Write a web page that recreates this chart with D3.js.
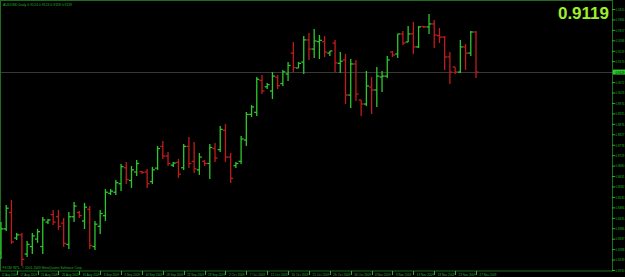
<!DOCTYPE html>
<html>
<head>
<meta charset="utf-8">
<script src="https://cdn.jsdelivr.net/npm/d3@7"></script>
<style>
  body { margin: 0; background: #000; }
  svg { display: block; }
  text { font-family: "Liberation Sans", Arial, sans-serif; }
</style>
</head>
<body>
<div id="chart"></div>
<script>
// AUDUSD daily bars, one entry per bar (left to right)
var barOpen  = [0.8270,0.8383,0.8460,0.8340,0.8355,0.8265,0.8300,0.8335,0.8300,0.8415,
                0.8450,0.8440,0.8410,0.8310,0.8440,0.8460,0.8420,0.8475,0.8300,0.8395,
                0.8445,0.8550,0.8555,0.8595,0.8670,0.8610,0.8650,0.8652,0.8650,0.8605,
                0.8668,0.8770,0.8725,0.8682,0.8695,0.8670,0.8770,0.8700,0.8660,0.8700,
                0.8690,0.8760,0.8755,0.8845,0.8720,0.8680,0.8700,0.8800,0.8920,0.8930,
                0.9080,0.9050,0.9030,0.9095,0.9065,0.9110,0.9208,0.9138,0.9166,0.9270,
                0.9227,0.9262,0.9262,0.9208,0.9255,0.9160,0.9176,0.9011,0.9157,0.8988,
                0.8969,0.9049,0.9035,0.9096,0.9100,0.9213,0.9204,0.9298,0.9260,0.9298,
                0.9237,0.9333,0.9331,0.9345,0.9290,0.9283,0.9190,0.9143,0.9119,0.9237,
                0.9208,0.9307];
var barHigh  = [0.8415,0.8495,0.8519,0.8364,0.8364,0.8326,0.8364,0.8383,0.8439,0.8429,
                0.8472,0.8472,0.8434,0.8462,0.8509,0.8467,0.8505,0.8490,0.8420,0.8472,
                0.8570,0.8570,0.8612,0.8688,0.8697,0.8678,0.8706,0.8655,0.8664,0.8674,
                0.8772,0.8796,0.8744,0.8697,0.8711,0.8781,0.8814,0.8791,0.8739,0.8706,
                0.8781,0.8786,0.8866,0.8875,0.8739,0.8697,0.8819,0.8932,0.8964,0.9096,
                0.9105,0.9068,0.9119,0.9105,0.9129,0.9166,0.9260,0.9166,0.9288,0.9302,
                0.9321,0.9293,0.9288,0.9218,0.9270,0.9213,0.9204,0.9180,0.9176,0.8988,
                0.9124,0.9096,0.9143,0.9124,0.9194,0.9218,0.9298,0.9312,0.9335,0.9354,
                0.9335,0.9335,0.9392,0.9363,0.9326,0.9288,0.9213,0.9143,0.9270,0.9251,
                0.9312,0.9312];
var barLow   = [0.8246,0.8378,0.8317,0.8336,0.8214,0.8256,0.8270,0.8322,0.8270,0.8411,
                0.8406,0.8383,0.8303,0.8293,0.8420,0.8439,0.8387,0.8293,0.8289,0.8364,
                0.8425,0.8547,0.8547,0.8566,0.8598,0.8580,0.8636,0.8645,0.8580,0.8598,
                0.8664,0.8716,0.8683,0.8678,0.8627,0.8664,0.8674,0.8650,0.8641,0.8683,
                0.8622,0.8702,0.8749,0.8702,0.8603,0.8674,0.8692,0.8777,0.8913,0.8917,
                0.9021,0.9044,0.8997,0.9044,0.9058,0.9082,0.9124,0.9143,0.9115,0.9180,
                0.9190,0.9185,0.9194,0.9199,0.9124,0.9119,0.8974,0.8955,0.8988,0.8917,
                0.8964,0.8927,0.8960,0.9030,0.9096,0.9194,0.9190,0.9251,0.9265,0.9208,
                0.9237,0.9331,0.9302,0.9237,0.9260,0.9133,0.9068,0.9115,0.9119,0.9133,
                0.9199,0.9096];
var barClose = [0.8383,0.8480,0.8322,0.8355,0.8240,0.8310,0.8350,0.8370,0.8425,0.8425,
                0.8415,0.8395,0.8315,0.8440,0.8490,0.8445,0.8485,0.8305,0.8405,0.8455,
                0.8555,0.8560,0.8600,0.8675,0.8615,0.8660,0.8690,0.8648,0.8595,0.8660,
                0.8760,0.8725,0.8690,0.8692,0.8640,0.8770,0.8690,0.8665,0.8720,0.8690,
                0.8765,0.8715,0.8850,0.8720,0.8620,0.8690,0.8805,0.8920,0.8955,0.9085,
                0.9030,0.9060,0.9100,0.9055,0.9120,0.9150,0.9140,0.9160,0.9270,0.9227,
                0.9265,0.9268,0.9213,0.9218,0.9162,0.9170,0.9011,0.9157,0.9016,0.8969,
                0.9054,0.9035,0.9100,0.9100,0.9176,0.9199,0.9298,0.9255,0.9298,0.9237,
                0.9331,0.9331,0.9345,0.9293,0.9283,0.9190,0.9119,0.9119,0.9237,0.9208,
                0.9307,0.9119];

var priceTicks = [0.8190,0.8239,0.8288,0.8337,0.8386,0.8435,0.8484,0.8533,0.8582,0.8631,
                  0.8680,0.8729,0.8778,0.8827,0.8876,0.8925,0.8974,0.9023,0.9072,0.9121,
                  0.9170,0.9219,0.9268,0.9317,0.9366,0.9415];
var dateLabels = ["12 Aug 2009","17 Aug 2009","21 Aug 2009","26 Aug 2009","31 Aug 2009",
                  "3 Sep 2009","9 Sep 2009","14 Sep 2009","18 Sep 2009","23 Sep 2009",
                  "28 Sep 2009","2 Oct 2009","7 Oct 2009","12 Oct 2009","16 Oct 2009",
                  "21 Oct 2009","26 Oct 2009","30 Oct 2009","4 Nov 2009","9 Nov 2009",
                  "13 Nov 2009","18 Nov 2009","23 Nov 2009","27 Nov 2009"];
var dateLabelBar = [-1,3,7,11,15,19,23,27,31,35,39,43,47,51,55,59,63,67,71,75,79,83,87,91];

var lastPrice = 0.9119;
var symbolTitle = "AUDUSD,Daily  0.9124 0.9124 0.9118 0.9119";
var copyright = "FXCM INTL, \u00a9 2001-2009 MetaQuotes Software Corp.";

var width = 625, height = 277;
var frameColor = "#1e6e1e", textColor = "#22b422";
var upColor = "#2ec82e", downColor = "#c01c1c";

function drawChart() {
      var svg = d3.select("#chart").append("svg")
            .attr("width", width)
            .attr("height", height)
            .style("background", "#000");

      var bars = barOpen.map(function (o, i) {
            return { i: i, o: o, h: barHigh[i], l: barLow[i], c: barClose[i] };
      });

      var x = d3.scaleLinear().domain([0, bars.length - 1]).range([1, 476]);
      var y = d3.scaleLinear().domain([0.8190, 0.9415]).range([270, 9]);

      // frame
      svg.append("rect")
            .attr("x", 0.5).attr("y", 0.5)
            .attr("width", 612).attr("height", 270.5)
            .attr("fill", "none")
            .attr("stroke", frameColor);

      // bid line
      svg.append("line")
            .attr("x1", 1).attr("x2", 612)
            .attr("y1", Math.round(y(lastPrice)) + 0.5)
            .attr("y2", Math.round(y(lastPrice)) + 0.5)
            .attr("stroke", "#383838");

      // right price axis (labels squeezed so they end at the window edge)
      var yAxis = svg.append("g")
            .attr("transform", "translate(612,0)")
            .call(d3.axisRight(y).tickValues(priceTicks).tickSize(3).tickFormat(d3.format(".4f")));
      yAxis.select(".domain").remove();
      yAxis.selectAll("line").attr("stroke", textColor);
      yAxis.selectAll("text")
            .attr("x", 3.5)
            .attr("fill", textColor)
            .attr("textLength", 9)
            .attr("lengthAdjust", "spacingAndGlyphs")
            .style("font-size", "4px");

      // current price box on the axis
      svg.append("rect")
            .attr("x", 613).attr("y", y(lastPrice) - 2.5)
            .attr("width", 12).attr("height", 5)
            .attr("fill", "#2ecc2e");
      svg.append("text")
            .attr("x", 615.5).attr("y", y(lastPrice) + 1.5)
            .attr("fill", "#000")
            .attr("textLength", 9)
            .attr("lengthAdjust", "spacingAndGlyphs")
            .style("font-size", "4px")
            .text(d3.format(".4f")(lastPrice));

      // bottom time axis
      svg.append("g").selectAll("line")
            .data(dateLabelBar)
            .enter().append("line")
            .attr("x1", d => Math.round(x(d)) + 0.5)
            .attr("x2", d => Math.round(x(d)) + 0.5)
            .attr("y1", 271).attr("y2", 275)
            .attr("stroke", textColor);
      svg.append("g").selectAll("text")
            .data(dateLabelBar)
            .enter().append("text")
            .attr("x", d => Math.max(1.5, x(d) + 3.5))
            .attr("y", 275.5)
            .attr("fill", textColor)
            .attr("textLength", (d, k) => k == 0 ? 15.5 : (dateLabels[k].length > 10 ? 17 : 15.5))
            .attr("lengthAdjust", "spacingAndGlyphs")
            .style("font-size", "4px")
            .text((d, k) => dateLabels[k]);

      // OHLC bars
      var g = svg.append("g");
      var bar = g.selectAll("g.bar")
            .data(bars)
            .enter().append("g")
            .attr("class", "bar")
            .attr("stroke", d => d.c >= d.o ? upColor : downColor)
            .attr("stroke-width", 1.3);
      bar.append("line")
            .attr("x1", d => x(d.i)).attr("x2", d => x(d.i))
            .attr("y1", d => y(d.h)).attr("y2", d => y(d.l) + 1);
      bar.append("line")
            .attr("x1", d => x(d.i) - 2.5).attr("x2", d => x(d.i))
            .attr("y1", d => y(d.o)).attr("y2", d => y(d.o));
      bar.append("line")
            .attr("x1", d => x(d.i)).attr("x2", d => x(d.i) + 2.5)
            .attr("y1", d => y(d.c)).attr("y2", d => y(d.c));

      // header texts
      svg.append("text")
            .attr("x", 3).attr("y", 5.5)
            .attr("fill", textColor)
            .attr("textLength", 69)
            .attr("lengthAdjust", "spacingAndGlyphs")
            .style("font-size", "4px")
            .text(symbolTitle);
      svg.append("text")
            .attr("x", 2.5).attr("y", 268.5)
            .attr("fill", textColor)
            .attr("textLength", 80)
            .attr("lengthAdjust", "spacingAndGlyphs")
            .style("font-size", "4px")
            .text(copyright);

      // big price readout
      svg.append("text")
            .attr("x", 609).attr("y", 19)
            .attr("text-anchor", "end")
            .attr("fill", "#9cf02a")
            .style("font-size", "17px")
            .style("font-weight", "bold")
            .text(d3.format(".4f")(lastPrice));
}

drawChart();
</script>
</body>
</html>
